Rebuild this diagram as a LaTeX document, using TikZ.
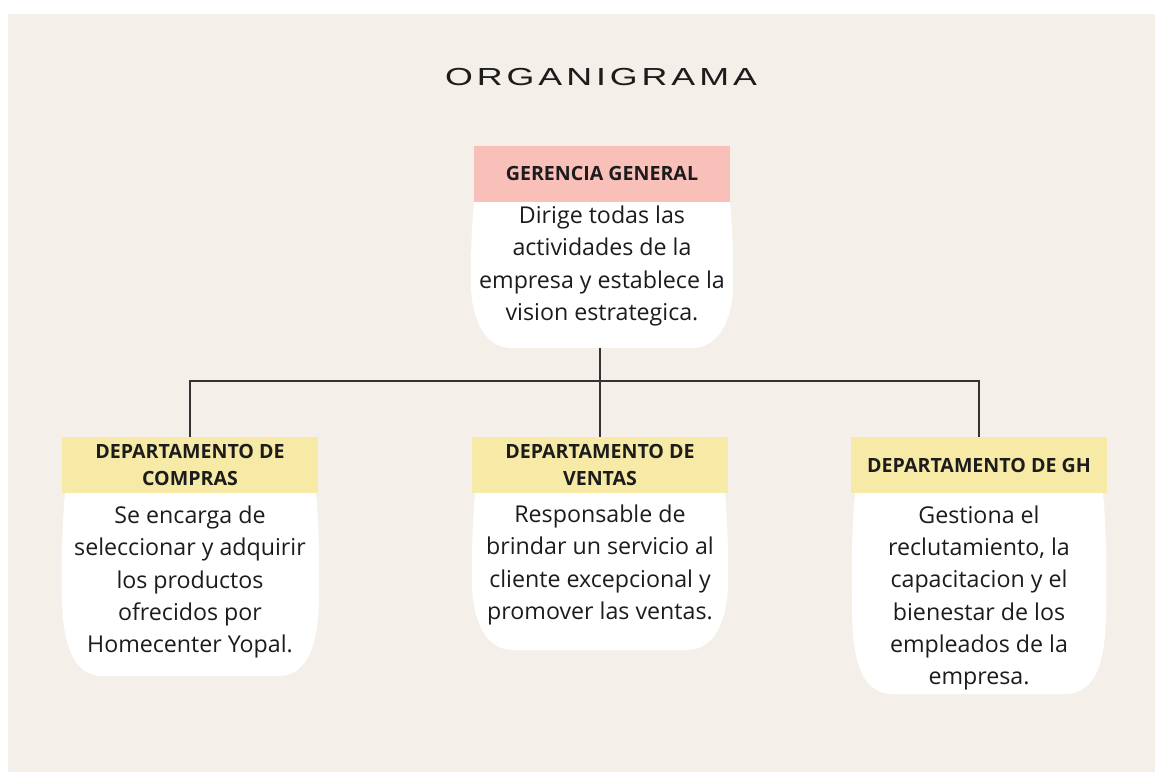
\documentclass[tikz,border=0pt]{standalone}
\usepackage{fontspec}
\setmainfont{Open Sans}
\newfontfamily\titulofont[FakeStretch=1.45,LetterSpace=16]{Liberation Sans}
\usepackage{tikz}

\definecolor{fondo}{HTML}{F4EFE9}
\definecolor{rosa}{HTML}{F9C0B9}
\definecolor{amarillo}{HTML}{F7EAA6}
\definecolor{linea}{HTML}{333333}
\definecolor{texto}{HTML}{1C1C1C}

% cuerpo blanco bajo cada cabecera: izquierda, derecha, arriba, abajo
\newcommand{\cuerpo}[4]{%
\fill [white] (#1,#3) to[out=265,in=90] ({#1-3},{(#3+#4)/2-10})
  to[out=270,in=180] ({#1+38},#4) -- ({#2-38},#4)
  to[out=0,in=270] ({#2+3},{(#3+#4)/2-10}) to[out=90,in=275] (#2,#3) -- cycle;}

\begin{document}
\begin{tikzpicture}[x=0.75pt,y=0.75pt]
\tikzset{cabecera/.style={rectangle, inner sep=0pt, minimum width=192pt, minimum height=42pt, align=center, text=texto, font=\bfseries\fontsize{14.7}{20.5}\selectfont}}
\tikzset{descripcion/.style={inner sep=0pt, align=center, text=texto, font=\fontsize{17.4}{24.2}\selectfont}}
\useasboundingbox (0,0) rectangle (1155,-772);
\fill [white] (0,0) rectangle (1155,-772);
\fill [fondo] (8,-14) rectangle (1155,-772);
\node [text=texto, font=\titulofont\fontsize{18.5}{20}\selectfont] (titulo) at (601,-77) {ORGANIGRAMA};
% gerencia
\node [cabecera, fill=rosa] (gerencia) at (602,-173.5) {GERENCIA GENERAL};
\cuerpo{474}{730}{-202}{-348}
\node [descripcion] (gerencia-txt) at (602,-266) {Dirige todas las\\actividades de la\\empresa y establece la\\vision estrategica.};
\coordinate (gerencia-fin) at (600,-348);
% departamentos
\node [cabecera, fill=amarillo] (compras) at (190,-465) {DEPARTAMENTO DE\\COMPRAS};
\cuerpo{65}{316}{-493}{-676}
\node [descripcion] (compras-txt) at (190,-582) {Se encarga de\\seleccionar y adquirir\\los productos\\ofrecidos por\\Homecenter Yopal.};
\node [cabecera, fill=amarillo] (ventas) at (600,-465) {DEPARTAMENTO DE\\VENTAS};
\cuerpo{475}{725}{-493}{-650}
\node [descripcion] (ventas-txt) at (600,-565) {Responsable de\\brindar un servicio al\\cliente excepcional y\\promover las ventas.};
\node [cabecera, fill=amarillo] (gh) at (979,-465) {DEPARTAMENTO DE GH};
\cuerpo{855}{1103}{-493}{-694}
\node [descripcion] (gh-txt) at (979,-598) {Gestiona el\\reclutamiento, la\\capacitacion y el\\bienestar de los\\empleados de la\\empresa.};
% conectores
\coordinate (bus) at (600,-381);
\draw [linea, line width=1pt] (gerencia-fin) -- (ventas.north);
\draw [linea, line width=1pt] (compras.north) |- (bus) -| (gh.north);
\end{tikzpicture}
\end{document}
